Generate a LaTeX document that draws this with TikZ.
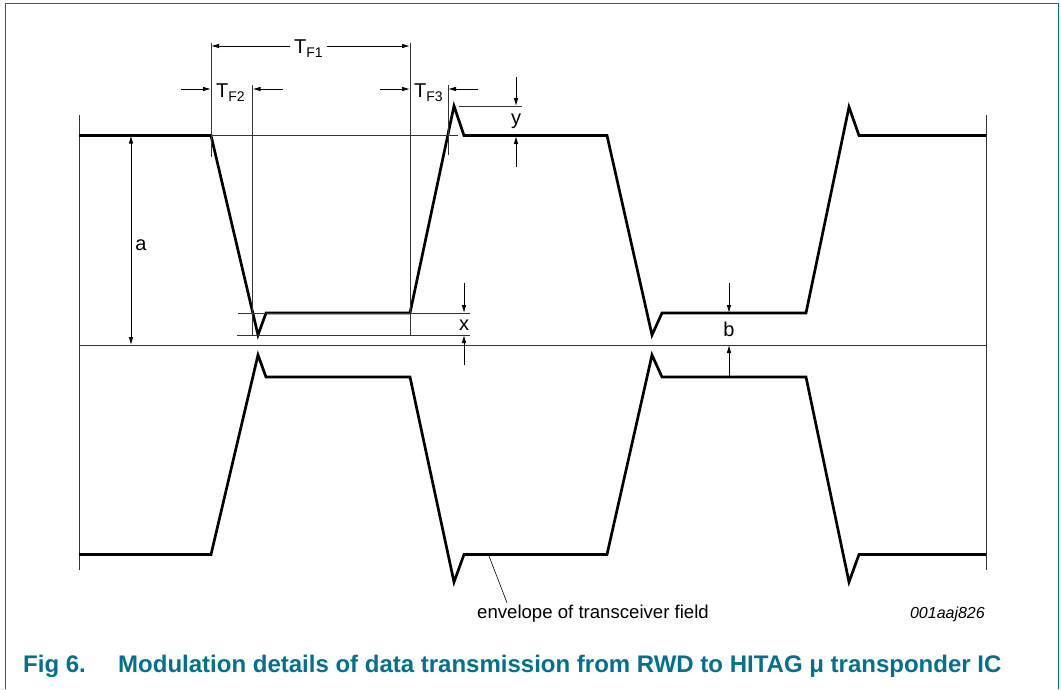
\documentclass[tikz,border=0pt]{standalone}
\usepackage{fontspec}
\setmainfont{Liberation Sans}
\usepackage{tikz}
\usetikzlibrary{arrows.meta,calc,positioning}
\definecolor{figteal}{RGB}{0,114,143}
\newcommand{\tlab}[1]{T\raisebox{-4.5pt}{\fontsize{14}{14}\selectfont #1}}

\begin{document}
\begin{tikzpicture}[x=1pt,y=-1pt,>={Latex[length=8pt,width=4.5pt]}]
	\tikzstyle{wave} = [line width=2.7pt, line join=miter]
	\tikzstyle{thin} = [line width=0.9pt, black!80]
	\tikzstyle{dim} = [line width=0.8pt, ->]
	\tikzstyle{lbl} = [inner sep=0pt, font=\fontsize{20}{20}\selectfont]
\path[use as bounding box] (0,0) rectangle (1061,689);
% frame
\draw[figteal, line width=1.2pt] (5.5,689) -- (5.5,3.5) -- (1058.5,3.5) -- (1058.5,689);
% outline of the field
\coordinate (l0) at (79,115);
\coordinate (l1) at (79,570);
\coordinate (r0) at (986,115);
\coordinate (r1) at (986,570);
\coordinate (m0) at (79,345);
\coordinate (m1) at (986,345);
	\path[draw][thin] (l0) -- (l1);
	\path[draw][thin] (r0) -- (r1);
	\path[draw][thin] (m0) -- (m1);
% envelope
\draw[wave] (79,135.5) -- (211,135.5) -- (258,335) -- (266,313) -- (410,313) -- (454,106) -- (464,135.5) -- (607,135.5) -- (652,335) -- (662,313) -- (806,313) -- (849,107) -- (859,135.5) -- (986,135.5);
\draw[wave] (79,554.5) -- (211,554.5) -- (258,355) -- (266,377) -- (410,377) -- (454,582) -- (464,554.5) -- (607,554.5) -- (652,355) -- (662,377) -- (806,377) -- (849,582) -- (859,554.5) -- (986,554.5);
% extension lines
	\path[draw][thin] (211,43) -- (211,157);
	\path[draw][thin] (410,43) -- (410,335);
	\path[draw][thin] (252.5,85) -- (252.5,335);
	\path[draw][thin] (448,85) -- (448,155);
	\path[draw][thin] (211,135.5) -- (458,135.5);
	\path[draw][thin] (459,106) -- (522,106);
	\path[draw][thin] (238,313) -- (470,313);
	\path[draw][thin] (237,335) -- (470,335);
% labels
\node[lbl, anchor=base west] (TF1) at (294,53) {\tlab{F1}};
\node[lbl, anchor=base west] (TF2) at (216,97) {\tlab{F2}};
\node[lbl, anchor=base west] (TF3) at (414,97) {\tlab{F3}};
\node[lbl, anchor=base] (ya) at (516,124) {y};
\node[lbl, anchor=base] (xa) at (464,330) {x};
\node[lbl, anchor=base] (ba) at (729,336) {b};
\node[lbl, anchor=base] (aa) at (141,250) {a};
% dimension arrows
\coordinate (f1l) at (211,46);
\coordinate (f1r) at (410,46);
\coordinate (f2a) at (181,89);
\coordinate (f2b) at (211,89);
\coordinate (f2c) at (283,89);
\coordinate (f2d) at (252.5,89);
\coordinate (f3a) at (380,89);
\coordinate (f3b) at (410,89);
\coordinate (f3c) at (478,89);
\coordinate (f3d) at (448,89);
	\path[draw][dim, shorten <=4pt] (TF1.west |- f1l) -- (f1l);
	\path[draw][dim, shorten <=4pt] (TF1.east |- f1r) -- (f1r);
	\path[draw][dim] (f2a) -- (f2b);
	\path[draw][dim] (f2c) -- (f2d);
	\path[draw][dim] (f3a) -- (f3b);
	\path[draw][dim] (f3c) -- (f3d);
	\path[draw][dim] (516,77) -- (516,106);
	\path[draw][dim] (516,167) -- (516,136);
	\path[draw][dim] (464,283) -- (464,313);
	\path[draw][dim] (464,365) -- (464,335);
	\path[draw][dim] (729,283) -- (729,313);
	\path[draw][dim] (729,376) -- (729,345);
	\path[draw][dim, <->] (131,345) -- (131,135.5);
% note
\node[inner sep=0pt, anchor=base west, font=\fontsize{18.6}{18.6}\selectfont] (env) at (477,618) {envelope of transceiver field};
\node[inner sep=0pt, anchor=base east, font=\fontsize{16}{16}\selectfont\itshape] (code) at (985,618) {001aaj826};
\coordinate (ew) at (489,556);
	\path[draw][line width=0.6pt] (ew) -- ($(env.north west)+(30,-1.5)$);
% caption
\node[inner sep=0pt, anchor=base west, text=figteal, font=\fontsize{24}{24}\selectfont\bfseries] (fig) at (23,672) {Fig 6.};
\node[inner sep=0pt, anchor=base west, text=figteal, font=\fontsize{24}{24}\selectfont\bfseries] (cap) at (118,672) {Modulation details of data transmission from RWD to HITAG μ transponder IC};
    \end{tikzpicture}
\end{document}
